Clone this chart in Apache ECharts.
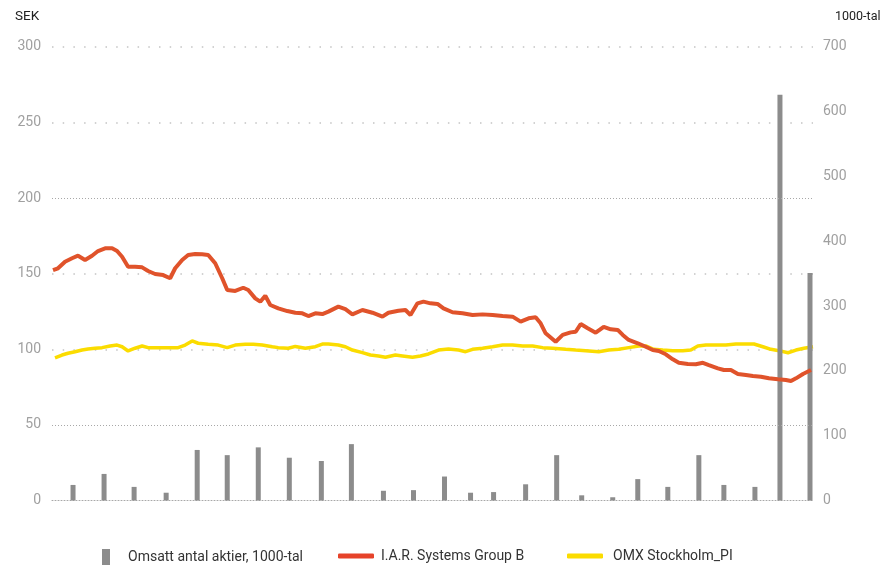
<!DOCTYPE html>
<html>
<head>
<meta charset="utf-8">
<script src="https://cdn.jsdelivr.net/npm/echarts@6/dist/echarts.min.js"></script>
<style>
html,body{margin:0;padding:0;background:#fff;}
#chart{width:886px;height:565px;}
</style>
</head>
<body>
<div id="chart"></div>
<script>
// ---- Data (x = calendar-day offset from the start of the period) ----
const iarDays  = [1,6,13,20,26,33,40,46,53,60,65,70,76,83,90,96,103,111,118,123,130,136,143,150,156,163,170,175,183,191,196,203,208,213,218,226,235,243,250,256,263,270,276,286,293,300,310,320,330,336,346,353,358,365,371,378,385,391,400,410,420,430,440,450,460,468,476,483,488,493,503,510,518,523,528,535,543,551,558,565,570,576,585,593,600,606,613,620,626,635,643,650,656,665,671,678,685,693,700,708,716,725,733,738,743,750,758];
const iarPrice = [152.4,153.6,157.9,160.2,161.9,159.1,161.9,165.0,166.8,166.8,165.0,161.2,154.6,154.6,154.2,151.8,149.8,149.1,147.0,153.6,159.1,162.4,163.0,162.8,162.4,156.9,147.0,139.2,138.6,140.7,139.2,133.7,131.5,135.4,129.3,127.1,125.3,124.2,123.8,122.0,123.8,123.3,124.9,128.2,126.5,123.1,126.0,124.2,121.6,124.2,125.5,126.0,122.7,130.4,131.5,130.4,130.0,127.1,124.5,123.8,122.7,123.1,122.7,122.0,121.6,118.3,120.5,121.2,117.2,110.6,105.0,109.5,111.2,111.6,116.7,113.9,111.0,114.9,113.2,112.8,109.5,106.2,104.0,101.7,99.5,98.9,96.7,93.4,91.1,90.3,90.1,91.1,89.6,87.4,86.3,86.3,83.7,83.0,82.3,81.9,80.8,80.2,79.7,79.0,80.8,83.7,86.3];

const omxDays  = [3,10,16,23,30,36,43,50,58,65,70,76,83,90,96,106,116,126,133,140,146,156,166,175,183,193,201,210,220,226,236,243,253,263,270,276,286,293,300,310,318,326,333,343,350,360,368,376,386,396,406,413,420,430,440,450,460,470,480,490,500,513,523,533,546,556,566,576,586,593,601,610,620,630,638,645,653,663,673,683,693,701,710,718,726,735,743,751,760];
const omxIndex = [94.4,96.2,97.4,98.4,99.5,100.2,100.7,101.1,102.2,102.8,101.7,98.9,100.7,102.2,101.1,101.1,101.1,101.1,102.8,105.5,104.0,103.3,102.8,101.1,102.8,103.3,103.3,102.8,101.7,101.1,100.7,101.9,100.7,101.7,103.5,103.5,102.8,101.7,99.5,97.8,96.2,95.6,94.7,96.2,95.6,94.7,95.6,96.9,99.5,100.2,99.5,98.4,100.0,100.7,101.7,102.8,102.8,102.2,102.2,101.1,100.7,100.0,99.5,99.1,98.4,99.5,100.0,101.1,102.2,102.2,100.0,99.5,99.1,99.1,99.5,102.2,102.8,102.8,102.8,103.5,103.5,103.5,101.7,100.0,99.1,97.7,99.5,100.7,101.7];

const volumeDays = [21,52,82,114,145,175,206,237,269,299,331,361,392,418,441,473,504,529,560,585,615,646,671,702,727,757];
const volume     = [24,41,21,12,78,70,82,66,61,87,15,16,37,12,13,25,70,8,5,33,21,70,24,21,626,351];

const sekTicks = [0,50,100,150,200,250,300];
const volTicks = [0,100,200,300,400,500,600,700];
const denseGridValues = [200,50];

const seriesNames = ['Omsatt antal aktier, 1000-tal','I.A.R. Systems Group B','OMX Stockholm_PI'];
const axisTitles = ['SEK','1000-tal'];

// ---- Build ----
const zip = (xs, ys) => xs.map((x, i) => [x, ys[i]]);
const FONT = 'Roboto, "Liberation Sans", sans-serif';
const sparseColors = sekTicks.map(v => (v === 0 || denseGridValues.includes(v)) ? 'rgba(0,0,0,0)' : '#c4c4c4');

const chart = echarts.init(document.getElementById('chart'), null, {renderer:'canvas'});
chart.setOption({
  animation: false,
  backgroundColor: '#fff',
  textStyle: {fontFamily: FONT},
  grid: {left: 52, right: 73, top: 46.9, bottom: 64.5},
  graphic: [
    {type:'text', left: 15, top: 10, style:{text: axisTitles[0], font: '13.5px ' + FONT, fill:'#222'}},
    {type:'text', left: 835, top: 10, style:{text: axisTitles[1], font: '12.5px ' + FONT, fill:'#222'}}
  ],
  xAxis: {
    type: 'value', min: 0, max: 760,
    axisLine: {show: true, lineStyle: {color: '#a8a8a8', type: [1, 2], width: 1}},
    axisTick: {show: false}, axisLabel: {show: false}, splitLine: {show: false}
  },
  yAxis: [
    {
      type: 'value', position: 'left',
      min: sekTicks[0], max: sekTicks[sekTicks.length-1], interval: sekTicks[1]-sekTicks[0],
      axisLine: {show: false}, axisTick: {show: false},
      axisLabel: {color: '#a0a0a0', fontSize: 14, margin: 11, fontFamily: FONT},
      splitLine: {show: true, lineStyle: {color: sparseColors, type: [1.5, 9.2], width: 1.5}}
    },
    {
      type: 'value', position: 'right',
      min: volTicks[0], max: volTicks[volTicks.length-1], interval: volTicks[1]-volTicks[0],
      axisLine: {show: false}, axisTick: {show: false},
      axisLabel: {color: '#a0a0a0', fontSize: 14, margin: 10, fontFamily: FONT},
      splitLine: {show: false}
    }
  ],
  legend: [
    {data: [seriesNames[0]], left: 102, top: 549, padding: 0, icon: 'rect', itemWidth: 8, itemHeight: 16,
     textStyle: {color: '#333', fontSize: 14, fontFamily: FONT, padding: [0,0,0,13]}},
    {data: [seriesNames[1]], left: 338, top: 549, padding: 0, icon: 'roundRect', itemWidth: 36, itemHeight: 5,
     textStyle: {color: '#333', fontSize: 14, fontFamily: FONT, padding: [0,0,0,2]}},
    {data: [seriesNames[2]], left: 567, top: 549, padding: 0, icon: 'roundRect', itemWidth: 36, itemHeight: 5,
     textStyle: {color: '#333', fontSize: 14, fontFamily: FONT, padding: [0,0,0,5]}}
  ],
  series: [
    {
      name: seriesNames[2], type: 'line', yAxisIndex: 0, z: 2,
      data: zip(omxDays, omxIndex), showSymbol: false, smooth: false,
      lineStyle: {color: '#fbdc00', width: 3.5}, itemStyle: {color: '#fbdc00'},
      markLine: {
        silent: true, symbol: 'none', label: {show: false}, animation: false,
        lineStyle: {color: '#a8a8a8', type: [1, 2], width: 1},
        data: denseGridValues.map(v => ({yAxis: v}))
      }
    },
    {
      name: seriesNames[0], type: 'bar', yAxisIndex: 1, z: 3,
      data: zip(volumeDays, volume), barWidth: 5,
      itemStyle: {color: '#8c8c8c'}
    },
    {
      name: seriesNames[1], type: 'line', yAxisIndex: 0, z: 4,
      data: zip(iarDays, iarPrice), showSymbol: false, smooth: false,
      lineStyle: {color: '#e0532b', width: 4}, itemStyle: {color: '#e6432a'}
    }
  ]
});
</script>
</body>
</html>
